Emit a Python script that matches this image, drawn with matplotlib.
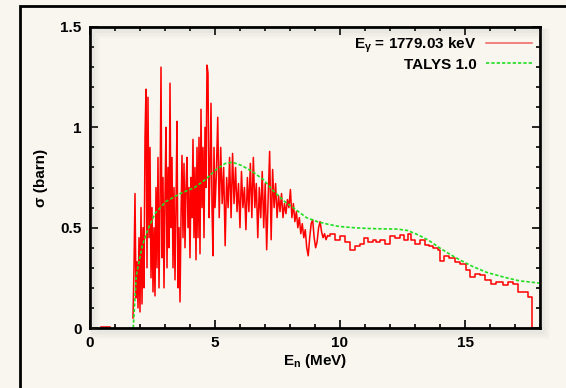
import matplotlib
matplotlib.use("Agg")
import matplotlib.pyplot as plt
import numpy as np
from matplotlib.patches import Rectangle

# measured cross section, fine bins (1.72 - 5.0 MeV)
sig_a = [0.05, 0.30, 0.67, 0.15, 0.33, 0.10, 0.45, 0.08, 0.60, 0.12,
         0.50, 0.20, 0.95, 1.19, 0.30, 1.15, 0.45, 0.90, 0.25, 0.60,
         0.18, 0.50, 0.16, 0.70, 0.30, 0.85, 0.20, 0.60, 1.30, 0.35,
         0.75, 0.20, 0.65, 1.00, 0.30, 0.80, 0.40, 1.22, 0.50, 0.85,
         0.30, 0.70, 0.24, 0.60, 1.03, 0.20, 0.50, 0.13, 0.55, 0.86,
         0.45, 0.82, 0.40, 0.70, 0.85, 0.50, 0.70, 0.35, 0.75, 0.55,
         0.94, 0.45, 0.80, 0.34, 0.90, 0.45, 0.95, 0.37, 1.09, 0.60,
         0.90, 0.45, 1.00, 0.70, 1.31, 1.27, 0.55, 0.80, 1.12, 0.60,
         0.36, 0.90, 0.60]
# fine bins (5.05 - 9.5 MeV)
sig_b = [0.75, 1.05, 0.55, 0.90, 0.62, 0.80, 0.41, 0.75, 0.60, 0.85,
         0.55, 0.87, 0.62, 0.80, 0.58, 0.72, 0.50, 0.78, 0.60, 0.70,
         0.49, 0.75, 0.58, 0.82, 0.55, 0.85, 0.60, 0.72, 0.45, 0.70,
         0.55, 0.78, 0.50, 0.72, 0.39, 0.65, 0.88, 0.44, 0.79, 0.60,
         0.72, 0.55, 0.66, 0.58, 0.67, 0.55, 0.62, 0.57, 0.64, 0.60,
         0.69, 0.55, 0.62, 0.53, 0.58, 0.50, 0.55, 0.47, 0.52, 0.45,
         0.49, 0.40, 0.36, 0.45, 0.52, 0.54, 0.45, 0.40, 0.43, 0.50,
         0.53, 0.48, 0.45, 0.47, 0.44, 0.46]
# coarse bins above 9.5 MeV
e_c = [9.6, 9.8, 10.0, 10.2, 10.4, 10.6, 10.8, 10.95, 11.1, 11.3,
       11.45, 11.6, 11.8, 12.0, 12.2, 12.4, 12.55, 12.7, 12.85, 13.0,
       13.2, 13.4, 13.55, 13.7, 13.9, 14.0, 14.15, 14.35, 14.6, 14.8,
       15.05, 15.2, 15.4, 15.6, 15.8, 16.05, 16.25, 16.5, 16.7, 16.9,
       17.1, 17.35, 17.5, 17.68, 17.68]
sig_c = [0.47, 0.44, 0.46, 0.43, 0.39, 0.41, 0.42, 0.45, 0.43, 0.44,
         0.43, 0.44, 0.42, 0.46, 0.45, 0.465, 0.44, 0.47, 0.44, 0.42,
         0.44, 0.415, 0.41, 0.40, 0.39, 0.335, 0.36, 0.35, 0.327, 0.32,
         0.29, 0.253, 0.27, 0.265, 0.24, 0.22, 0.23, 0.215, 0.23, 0.22,
         0.18, 0.18, 0.153, 0.153, 0.0]
e_low = [0.45, 0.80]
sig_low = [0.006, 0.006]

# TALYS 1.0 calculation
e_talys = [1.73, 1.85, 2.09, 2.31, 2.6, 3.03, 3.61, 4.18, 4.62, 5.05,
           5.41, 5.7, 6.06, 6.49, 6.93, 7.36, 7.79, 8.23, 8.66, 9.09,
           9.52, 9.96, 10.53, 11.11, 11.69, 12.27, 12.7, 13.13, 13.56, 14.0,
           14.43, 14.86, 15.3, 15.87, 16.6, 17.17, 17.97]
sig_talys = [0.0, 0.26, 0.41, 0.49, 0.57, 0.63, 0.67, 0.70, 0.74, 0.79,
             0.82, 0.826, 0.81, 0.78, 0.74, 0.68, 0.63, 0.59, 0.55, 0.53,
             0.517, 0.506, 0.50, 0.496, 0.494, 0.493, 0.486, 0.464, 0.436, 0.398,
             0.365, 0.335, 0.307, 0.277, 0.252, 0.235, 0.224]

e_fine = np.concatenate([np.linspace(1.72, 5.0, len(sig_a)),
                         np.linspace(5.05, 9.5, len(sig_b))])
sig_fine = np.concatenate([sig_a, sig_b])

plt.rcParams["font.family"] = ["Liberation Sans", "DejaVu Sans"]
plt.rcParams["font.weight"] = "bold"
plt.rcParams["mathtext.fontset"] = "custom"
plt.rcParams["mathtext.rm"] = "Liberation Sans:bold"
plt.rcParams["mathtext.it"] = "Liberation Sans:bold"
plt.rcParams["mathtext.bf"] = "Liberation Sans:bold"
plt.rcParams["mathtext.default"] = "bf"

bg = "#f8f6ee"
fig = plt.figure(figsize=(5.66, 3.88), dpi=100, facecolor=bg)
ax = fig.add_axes([90 / 566, 60 / 388, 450 / 566, 301 / 388])
ax.set_facecolor("none")

# outer frame
fig.patches.append(Rectangle((20 / 566, -0.1), 2, 1.1 - 6 / 388,
                             transform=fig.transFigure, fill=False,
                             lw=2, ec="black", zorder=0))
# soft shadow behind the axes
for k, a in enumerate([0.05, 0.04, 0.03]):
    fig.patches.append(Rectangle(((90 + 3 + k) / 566, (60 - 4 - k) / 388),
                                 450 / 566, 301 / 388, transform=fig.transFigure,
                                 fc="none", ec="#888888", lw=3 + 2 * k,
                                 alpha=a, zorder=0))

red = "#ff0000"
ax.plot(e_fine, sig_fine, color=red, lw=1.1, label=r"E$_\gamma$ = 1779.03 keV")
ax.plot(np.r_[e_fine[-1], e_c], np.r_[sig_fine[-1], sig_c], color=red,
        lw=1.1, drawstyle="steps-post")
ax.plot(e_low, sig_low, color=red, lw=1.1)
ax.plot(e_talys, sig_talys, color="#22dd22", lw=1.2, ls=(0, (2, 1.2)),
        label="TALYS 1.0")

ax.set_xlim(0, 18)
ax.set_ylim(0, 1.5)
ax.set_xticks([0, 5, 10, 15])
ax.set_xticks(np.arange(0, 18.5, 1), minor=True)
ax.set_yticks([0, 0.5, 1, 1.5])
ax.set_yticklabels(["0", "0.5", "1", "1.5"])
ax.set_yticks(np.arange(0, 1.51, 0.1), minor=True)
ax.tick_params(which="both", direction="in", top=True, right=True,
               labelsize=11, width=1.2)
ax.tick_params(which="major", length=6, pad=6)
ax.tick_params(which="minor", length=3)
for lab in ax.get_xticklabels() + ax.get_yticklabels():
    lab.set_fontweight("bold")
for s in ax.spines.values():
    s.set_linewidth(2)

ax.set_xlabel(r"E$_n$ (MeV)", fontsize=11, fontweight="bold", labelpad=1)
ax.set_ylabel("σ (barn)", fontsize=11, fontweight="bold", labelpad=9)

leg = ax.legend(loc="upper right", frameon=False, markerfirst=False,
                prop={"weight": "bold", "size": 11}, handlelength=3.0,
                borderaxespad=0.15, labelspacing=0.2, handletextpad=0.6)
leg.get_lines()[0].set_color("#f06060")

fig.savefig("out.png", dpi=100, facecolor=bg)
